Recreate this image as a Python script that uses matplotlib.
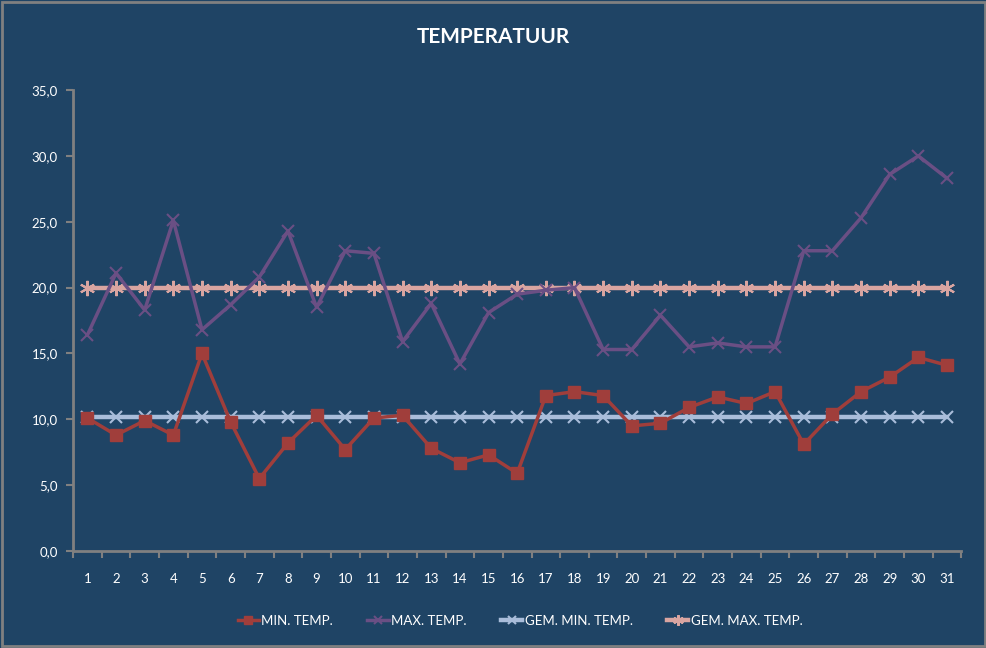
import matplotlib
matplotlib.use("Agg")
import matplotlib.pyplot as plt
from matplotlib.ticker import FuncFormatter, MultipleLocator, FixedLocator
from matplotlib.patches import Rectangle

days = list(range(1, 32))
min_temp = [10.1, 8.8, 9.9, 8.8, 15.0, 9.8, 5.5, 8.2, 10.3, 7.7, 10.1, 10.3, 7.8, 6.7, 7.3, 5.9,
            11.8, 12.1, 11.8, 9.5, 9.7, 10.9, 11.7, 11.2, 12.1, 8.1, 10.4, 12.1, 13.2, 14.7, 14.1]
max_temp = [16.4, 21.1, 18.3, 25.1, 16.8, 18.7, 20.8, 24.3, 18.5, 22.8, 22.6, 15.9, 18.8, 14.2, 18.1, 19.5,
            19.8, 20.0, 15.3, 15.3, 17.9, 15.5, 15.8, 15.5, 15.5, 22.8, 22.8, 25.3, 28.6, 30.0, 28.3]
gem_min = [10.2] * 31
gem_max = [20.0] * 31
labels = ["MIN. TEMP.", "MAX. TEMP.", "GEM. MIN. TEMP.", "GEM. MAX. TEMP."]
title = "TEMPERATUUR"

BG = "#1F4465"
FONT = ["Lato", "DejaVu Sans"]
plt.rcParams['font.family'] = FONT

fig = plt.figure(figsize=(9.87, 6.48), dpi=100, facecolor=BG)
ax = fig.add_axes([0.074, 0.1497, 0.9, 0.7113], facecolor=BG)

ax.plot(days, min_temp, color="#A03E3B", lw=2.5, marker="s", ms=8, mec="#A03E3B", label=labels[0], zorder=5)
ax.plot(days, max_temp, color="#6A4F84", lw=2.5, marker="x", ms=9, mew=1.5, label=labels[1], zorder=4)
ax.plot(days, gem_min, color="#A9BDDA", lw=3.2, marker="x", ms=9, mew=1.5, label=labels[2], zorder=3)
ax.plot(days, gem_max, color="#D9A5A1", lw=3.2, marker=(6, 2, 0), ms=11, mew=1.5, label=labels[3], zorder=3)

ax.set_xlim(0.5, 31.5)
ax.set_ylim(0, 35)
ax.yaxis.set_major_locator(MultipleLocator(5))
ax.yaxis.set_major_formatter(FuncFormatter(lambda v, p: f"{v:.1f}".replace(".", ",")))
ax.xaxis.set_major_locator(FixedLocator(days))
ax.set_xticklabels([str(d) for d in days])
ax.xaxis.set_minor_locator(FixedLocator([d + 0.5 for d in range(0, 32)]))
ax.tick_params(axis="x", which="major", length=0, pad=16, labelsize=9.5, labelcolor="white")
ax.tick_params(axis="x", which="minor", length=5, width=1.5, color="#808080", direction="out")
ax.tick_params(axis="y", which="major", length=5, width=1.5, color="#808080", direction="out",
               labelsize=9.5, labelcolor="white", pad=6)
for s in ["top", "right"]:
    ax.spines[s].set_visible(False)
for s in ["left", "bottom"]:
    ax.spines[s].set_color("#808080")
    ax.spines[s].set_linewidth(2)

fig.text(0.5, 0.943, title, ha="center", va="center", color="white", fontsize=15, fontweight="bold")

leg = fig.legend(loc="center", bbox_to_anchor=(0.527, 0.042), ncol=4, frameon=False,
                 fontsize=9.5, labelcolor="white", columnspacing=2.6, handlelength=1.6,
                 handletextpad=0.2, markerscale=0.7)

fig.patches.append(Rectangle((0.002, 0.003), 0.996, 0.994, transform=fig.transFigure,
                             fill=False, edgecolor="#808080", lw=2))

fig.savefig("out.png", dpi=100, facecolor=BG)
